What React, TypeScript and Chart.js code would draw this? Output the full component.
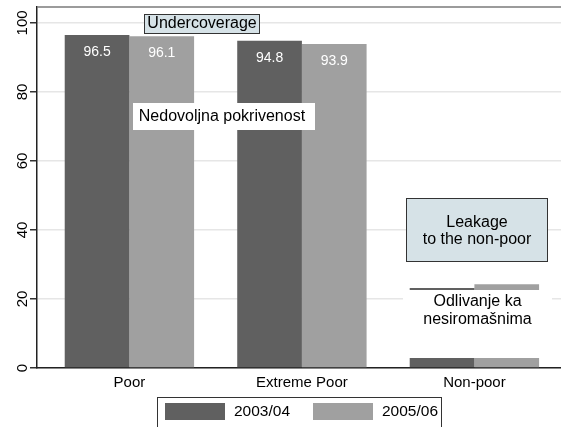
import React, { useEffect, useRef } from "react";
import { Chart, registerables } from "chart.js";

Chart.register(...registerables);

// ---------- data ----------
const categories = ["Poor", "Extreme Poor", "Non-poor"];
const seriesLabels = ["2003/04", "2005/06"];
const values2003 = [96.5, 94.8, 23.2];
const values2005 = [96.1, 93.9, 24.3];
const yTickValues = [0, 20, 40, 60, 80, 100];
const labelledCategories = [0, 1];

// annotation texts
const undercoverageText = ["Undercoverage"];
const nedovoljnaText = ["Nedovoljna pokrivenost"];
const leakageText = ["Leakage", "to the non-poor"];
const odlivanjeText = ["Odlivanje ka", "nesiromašnima"];

// ---------- styles ----------
const FONT = "'Liberation Sans', Arial, Helvetica, sans-serif";
const DARK = "#606060";
const LIGHT = "#a0a0a0";
const BLUEBOX = "#d6e2e7";

type Annot = {
  lines: string[];
  x: number;
  y: number;
  w: number;
  h: number;
  font: number;
  lh: number;
  dx: number;
  dy: number;
  fill: string;
  border: boolean;
};

const annotations: Annot[] = [
  { lines: undercoverageText, x: 0.421, y: 99.8, w: 116, h: 20, font: 16, lh: 0, dx: 0, dy: 0, fill: BLUEBOX, border: true },
  { lines: nedovoljnaText, x: 0.548, y: 72.9, w: 182, h: 27, font: 16, lh: 0, dx: -2, dy: 0, fill: "#ffffff", border: false },
  { lines: leakageText, x: 2.015, y: 40.0, w: 142, h: 64, font: 16, lh: 17, dx: 0, dy: 1.5, fill: BLUEBOX, border: true },
  { lines: odlivanjeText, x: 2.018, y: 12.7, w: 149, h: 68, font: 16, lh: 18, dx: 0, dy: -13.5, fill: "#ffffff", border: false },
];

const decorPlugin = {
  id: "stataDecor",
  afterDraw(chart: any) {
    const ctx: CanvasRenderingContext2D = chart.ctx;
    const area = chart.chartArea;
    const xs = chart.scales.x;
    const ys = chart.scales.y;
    ctx.save();

    // top frame line
    ctx.strokeStyle = "#7a7a7a";
    ctx.lineWidth = 1.5;
    ctx.beginPath();
    ctx.moveTo(area.left, area.top);
    ctx.lineTo(area.right, area.top);
    ctx.stroke();

    // rotated y tick labels
    ctx.fillStyle = "#000";
    ctx.font = `15px ${FONT}`;
    ctx.textAlign = "center";
    ctx.textBaseline = "alphabetic";
    for (const v of yTickValues) {
      const py = ys.getPixelForValue(v);
      ctx.save();
      ctx.translate(area.left - 10, py);
      ctx.rotate(-Math.PI / 2);
      ctx.fillText(String(v), 0, 0);
      ctx.restore();
    }

    // value labels inside bars
    const all = [values2003, values2005];
    chart.data.datasets.forEach((_ds: any, di: number) => {
      const meta = chart.getDatasetMeta(di);
      meta.data.forEach((el: any, i: number) => {
        if (!labelledCategories.includes(i)) return;
        ctx.fillStyle = "#ffffff";
        ctx.font = `14px ${FONT}`;
        ctx.textAlign = "center";
        ctx.textBaseline = "middle";
        ctx.fillText(all[di][i].toFixed(1), el.x, el.y + 17);
      });
    });

    // annotation boxes
    for (const a of annotations) {
      const cx = xs.getPixelForValue(a.x);
      const cy = ys.getPixelForValue(a.y);
      const left = Math.round(cx - a.w / 2);
      const top = Math.round(cy - a.h / 2);
      ctx.fillStyle = a.fill;
      ctx.fillRect(left, top, a.w, a.h);
      if (a.border) {
        ctx.strokeStyle = "#333";
        ctx.lineWidth = 1;
        ctx.strokeRect(left + 0.5, top + 0.5, a.w - 1, a.h - 1);
      }
      ctx.fillStyle = "#000";
      ctx.font = `${a.font}px ${FONT}`;
      ctx.textAlign = "center";
      ctx.textBaseline = "middle";
      const n = a.lines.length;
      const ty = cy + a.dy - ((n - 1) * a.lh) / 2;
      a.lines.forEach((l, i) => ctx.fillText(l, cx + a.dx, ty + i * a.lh));
    }

    // legend (centered under plot region)
    const lgW = 285;
    const lgLeft = Math.round((area.left + area.right) / 2 - lgW / 2);
    const lgTop = 397;
    ctx.strokeStyle = "#333";
    ctx.lineWidth = 1;
    ctx.fillStyle = "#fff";
    ctx.fillRect(lgLeft, lgTop, lgW, 40);
    ctx.strokeRect(lgLeft + 0.5, lgTop + 0.5, lgW - 1, 40);
    const items = chart.data.datasets;
    const itemOffsets = [8, 156];
    items.forEach((ds: any, i: number) => {
      const sx = lgLeft + itemOffsets[i];
      ctx.fillStyle = ds.backgroundColor;
      ctx.fillRect(sx, lgTop + 6, 60, 17);
      ctx.fillStyle = "#000";
      ctx.font = `15.5px ${FONT}`;
      ctx.textAlign = "left";
      ctx.textBaseline = "middle";
      ctx.fillText(ds.label, sx + 69, lgTop + 15);
    });

    ctx.restore();
  },
};

export default function App() {
  const ref = useRef<HTMLCanvasElement | null>(null);

  useEffect(() => {
    if (!ref.current) return;
    const makeData = (vals: number[]) => vals.map((v, i) => ({ x: i, y: v }));
    const chart = new Chart(ref.current, {
      type: "bar",
      data: {
        datasets: [
          { label: seriesLabels[0], data: makeData(values2003) as any, backgroundColor: DARK, borderWidth: 0 },
          { label: seriesLabels[1], data: makeData(values2005) as any, backgroundColor: LIGHT, borderWidth: 0 },
        ],
      },
      options: {
        animation: false,
        responsive: false,
        devicePixelRatio: 1,
        layout: { padding: { top: 7, left: 0, right: 0, bottom: 0 } },
        datasets: { bar: { categoryPercentage: 0.75, barPercentage: 1 } },
        plugins: { legend: { display: false }, tooltip: { enabled: false } },
        scales: {
          x: {
            type: "linear",
            offset: false,
            min: -0.5357,
            max: 2.502,
            grid: { display: false, drawTicks: false, offset: false },
            border: { display: true, color: "#222", width: 1.5 },
            afterBuildTicks: (scale: any) => {
              scale.ticks = categories.map((_c, i) => ({ value: i }));
            },
            afterFit: (scale: any) => {
              scale.height = 59;
            },
            ticks: {
              autoSkip: false,
              maxRotation: 0,
              padding: 6,
              color: "#000",
              font: { family: FONT, size: 15 },
              callback: (v: any) => categories[Math.round(Number(v))] ?? "",
            },
          },
          y: {
            type: "linear",
            min: 0,
            max: 104.6,
            afterBuildTicks: (scale: any) => {
              scale.ticks = yTickValues.map((v) => ({ value: v }));
            },
            afterFit: (scale: any) => {
              scale.width = 37;
            },
            grid: { color: "#e6e6e6", lineWidth: 1.5, tickColor: "#333", tickLength: 7, drawTicks: true },
            border: { display: true, color: "#222", width: 1.5 },
            ticks: { display: false },
          },
        },
      },
      plugins: [decorPlugin],
    });
    return () => chart.destroy();
  }, []);

  return (
    <div style={{ position: "absolute", left: 0, top: 0, width: 561, height: 427, background: "#fff" }}>
      <canvas ref={ref} width={561} height={427} style={{ display: "block" }} />
    </div>
  );
}
